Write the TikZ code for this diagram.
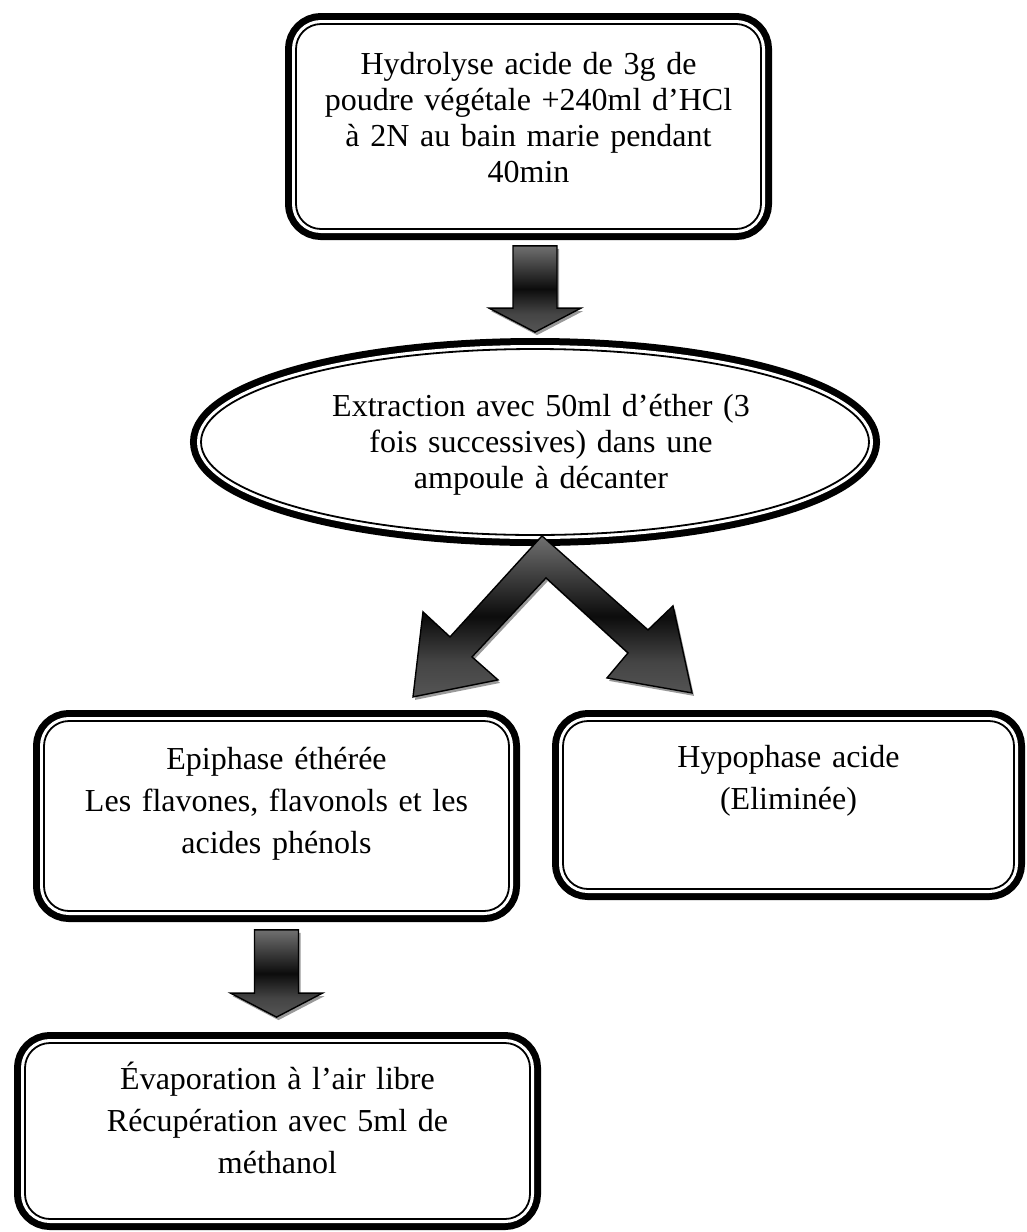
\documentclass[tikz,border=0pt]{standalone}
\usepackage{fontspec}
\setmainfont{Liberation Serif}
\usetikzlibrary{calc,shadows,shapes.geometric}
\definecolor{arrtop}{RGB}{112,112,112}
\definecolor{arrmid}{RGB}{12,12,12}
\definecolor{arrbot}{RGB}{85,85,85}
\pgfdeclareverticalshading{arrowshade}{100bp}{color(0bp)=(arrbot); color(25bp)=(arrbot); color(36bp)=(arrbot!80!black); color(50bp)=(arrmid); color(75bp)=(arrtop); color(100bp)=(arrtop)}
\tikzset{
  framebox/.style={draw=black, line width=1.8pt, inner sep=0pt,
    preaction={draw=black, line width=22pt},
    preaction={fill=white},
    preaction={draw=white, line width=8pt}},
  roundbox/.style={framebox, rectangle, rounded corners=25pt},
  ovalbox/.style={framebox, ellipse},
  boxtext/.style={text width=480pt, align=center, inner sep=0pt, anchor=base,
    font=\fontsize{32}{42}\selectfont},
  ovaltext/.style={boxtext, font=\fontsize{32}{36}\selectfont},
  blockarrow/.style={draw=black, line width=1.4pt, line join=miter, shading=arrowshade,
    drop shadow={shadow xshift=2pt, shadow yshift=-3pt, fill=black!40, opacity=1}},
}
\newcommand\blockdown[2]{%
  \draw[blockarrow] ($(#1)+(-22,0)$) -- ($(#1)+(22,0)$) -- ($(#2)+(22,-24)$)
    -- ($(#2)+(46,-24)$) -- (#2) -- ($(#2)+(-46,-24)$) -- ($(#2)+(-22,-24)$) -- cycle;}

\begin{document}
\begin{tikzpicture}[x=1pt,y=-1pt]
\path[use as bounding box, fill=white] (0,0) rectangle (1027,1232);

\node[roundbox, minimum width=465pt, minimum height=205pt] (hydro) at (528.5,126.5) {};
\node[ovalbox, minimum width=668pt, minimum height=186pt] (ether) at (535,442) {};
\node[roundbox, minimum width=465pt, minimum height=190pt] (epi) at (276.5,816) {};
\node[roundbox, minimum width=451pt, minimum height=168pt] (hypo) at (788.5,805) {};
\node[roundbox, minimum width=505pt, minimum height=176pt] (evap) at (277.5,1131) {};

\node[ovaltext] (hydrotxt) at ($(hydro.north)+(0,51)$) {Hydrolyse acide de 3g de\\poudre végétale +240ml d’HCl\\à 2N au bain marie pendant\\40min};
\node[ovaltext] (ethertxt) at ($(ether.north)+(6,68)$) {Extraction avec 50ml d’éther (3\\fois successives) dans une\\ampoule à décanter};
\node[boxtext] (epitxt) at ($(epi.north)+(0,49)$) {Epiphase éthérée\\Les flavones, flavonols et les\\acides phénols};
\node[boxtext] (hypotxt) at ($(hypo.north)+(0,47)$) {Hypophase acide\\(Eliminée)};
\node[boxtext] (evaptxt) at ($(evap.north)+(0,47)$) {Évaporation à l’air libre\\Récupération avec 5ml de\\méthanol};

\coordinate (a1s) at ($(hydro.south -| ether.north)+(0,16)$);
\coordinate (a1e) at ($(ether.north)+(0,-16)$);
\coordinate (a3s) at ($(epi.south)+(0,18)$);
\coordinate (a3e) at ($(evap.north -| epi.south)+(0,-25)$);
\coordinate (fork) at ($(ether.south)+(7,0)$);

\blockdown{a1s}{a1e}
\blockdown{a3s}{a3e}
\draw[blockarrow, shift={(fork)}] (0,0) -- (106,94) -- (131,70) -- (150,157) -- (65,142)
  -- (86,117) -- (4,42) -- (-70,121) -- (-44,144) -- (-129,161) -- (-119,76) -- (-92,101) -- cycle;
\end{tikzpicture}
\end{document}
